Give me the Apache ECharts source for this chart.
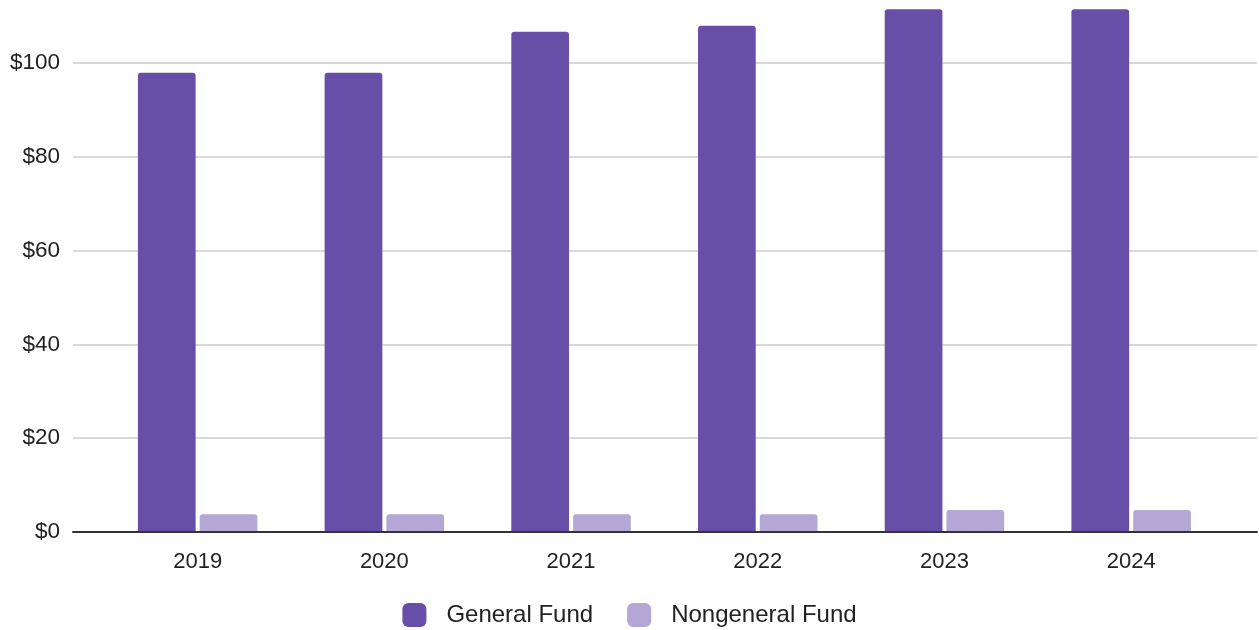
<!DOCTYPE html>
<html>
<head>
<meta charset="utf-8">
<script src="https://cdn.jsdelivr.net/npm/echarts@6/dist/echarts.min.js"></script>
<style>html,body{margin:0;padding:0;background:#fff;overflow:hidden}#c{width:1259px;height:661px;margin-top:-31px}</style>
</head>
<body>
<div id="c"></div>
<script>
const categories = ['2019', '2020', '2021', '2022', '2023', '2024'];
const generalFund = [97.9, 97.9, 106.6, 107.9, 111.4, 111.4];
const nongeneralFund = [3.8, 3.8, 3.8, 3.8, 4.7, 4.7];
const seriesNames = ['General Fund', 'Nongeneral Fund'];
const yTicks = [0, 20, 40, 60, 80, 100, 120];

const chart = echarts.init(document.getElementById('c'));
const font = 'Liberation Sans, Arial, sans-serif';
const yMin = yTicks[0], yMax = yTicks[yTicks.length - 1], yStep = yTicks[1] - yTicks[0];
chart.setOption({
  animation: false,
  grid: [
    { left: 73, right: 2, top: 0, bottom: 98, containLabel: false, outerBoundsMode: 'none' },
    { left: 104.3, right: 34.5, top: 0, bottom: 98, containLabel: false, outerBoundsMode: 'none' }
  ],
  legend: {
    data: seriesNames,
    bottom: -2,
    left: 'center',
    icon: 'roundRect',
    itemWidth: 24,
    itemHeight: 24,
    itemGap: 34,
    textStyle: { fontFamily: font, fontSize: 24, color: '#222', padding: [0, 0, 0, 15] }
  },
  xAxis: [
    {
      type: 'category', gridIndex: 0, data: categories, z: 10,
      axisTick: { show: false }, axisLabel: { show: false },
      axisLine: { lineStyle: { color: '#333', width: 2 } }
    },
    {
      type: 'category', gridIndex: 1, data: categories,
      axisTick: { show: false }, axisLine: { show: false },
      axisLabel: { fontFamily: font, fontSize: 22, color: '#222', margin: 19 }
    }
  ],
  yAxis: [
    {
      type: 'value', gridIndex: 0, min: yMin, max: yMax, interval: yStep,
      axisLine: { show: false }, axisTick: { show: false },
      splitLine: { lineStyle: { color: '#cccccc', width: 1.5 } },
      axisLabel: { fontFamily: font, fontSize: 22.5, color: '#222', margin: 13, formatter: v => '$' + v }
    },
    {
      type: 'value', gridIndex: 1, min: yMin, max: yMax, interval: yStep, show: false,
      splitLine: { show: false }
    }
  ],
  series: [
    {
      name: seriesNames[0], type: 'bar', data: generalFund, xAxisIndex: 1, yAxisIndex: 1,
      barCategoryGap: '36%', barGap: '7%',
      itemStyle: { color: '#674ea7', borderRadius: [3, 3, 0, 0] }
    },
    {
      name: seriesNames[1], type: 'bar', data: nongeneralFund, xAxisIndex: 1, yAxisIndex: 1,
      itemStyle: { color: '#b4a7d6', borderRadius: [3, 3, 0, 0] }
    }
  ]
});
</script>
</body>
</html>
